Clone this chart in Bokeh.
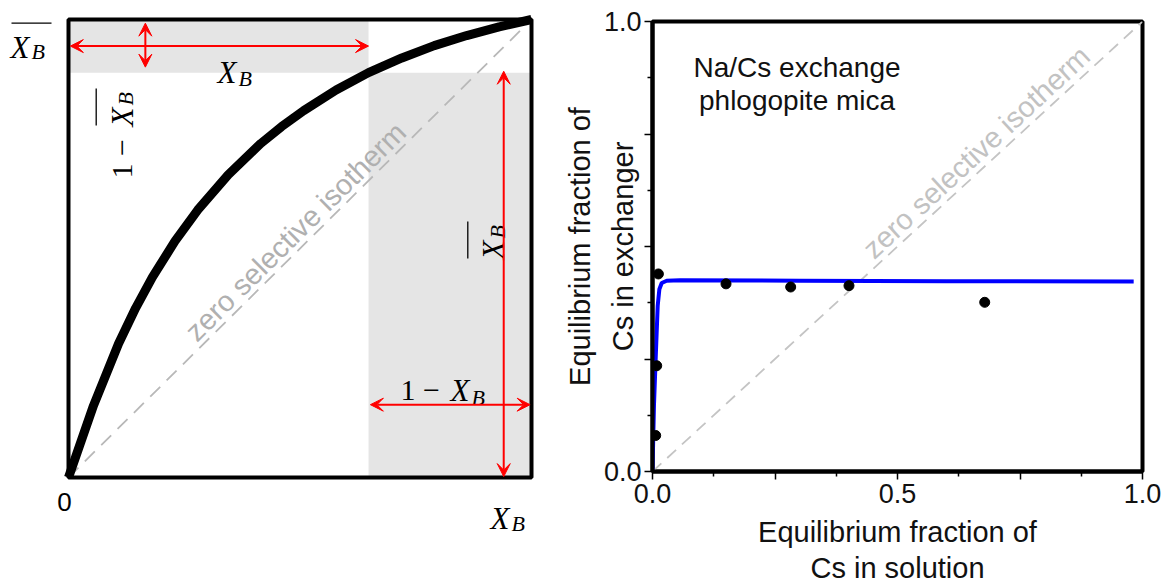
import math

from bokeh.core.properties import value
from bokeh.embed import file_html
from bokeh.layouts import row
from bokeh.models import Arrow, FixedTicker, Label, Range1d, VeeHead
from bokeh.plotting import figure
from bokeh.resources import INLINE

# ---------------- data ----------------
# Left panel: schematic favourable exchange isotherm (fraction in solution vs exchanger)
curve_x = [0.0, 0.054, 0.108, 0.145, 0.181, 0.23, 0.279, 0.345, 0.415, 0.46, 0.508,
           0.578, 0.648, 0.72, 0.79, 0.86, 0.93, 1.0]
curve_y = [0.0, 0.157, 0.292, 0.370, 0.437, 0.516, 0.584, 0.661, 0.729, 0.766, 0.801,
           0.846, 0.884, 0.916, 0.943, 0.965, 0.984, 1.0]
x_b = 0.648        # X_B marked on the schematic
x_b_bar = 0.884    # exchanger fraction on the curve at X_B
iso_x = [0.0, 1.0]  # zero-selectivity isotherm (y = x)
iso_y = [0.0, 1.0]

# Right panel: Na/Cs exchange on phlogopite mica
sol_frac = [0.0065, 0.0086, 0.012, 0.150, 0.282, 0.401, 0.678]
exch_frac = [0.080, 0.235, 0.439, 0.417, 0.410, 0.413, 0.376]
fit_x = [0.0, 0.003, 0.0072, 0.0106, 0.014, 0.0188, 0.029, 0.056, 0.3, 0.6, 0.982]
fit_y = [0.0, 0.147, 0.272, 0.368, 0.405, 0.419, 0.424, 0.425, 0.424, 0.423, 0.422]

x_ticks = [0.0, 0.25, 0.5, 0.75, 1.0]
x_tick_labels = ["0.0", "", "0.5", "", "1.0"]
y_ticks = [0.0, 0.25, 0.5, 0.75, 1.0]
y_tick_labels = ["0.0", "", "", "", "1.0"]
minor = [0.125, 0.375, 0.625, 0.875]

SERIF = "Liberation Serif"
SANS = "Liberation Sans"
RED = "#ff0000"
SHADE = "#e5e5e5"
INK = "#111111"

# ---------------- left panel ----------------
LW, LH = 560, 587
BX0, BX1, BYT, BYB = 68, 531, 19, 477   # box edges on the canvas (px)
KX, KY = BX1 - BX0, BYB - BYT            # px per data unit

left = figure(width=LW, height=LH, output_backend="svg", toolbar_location=None,
              x_range=Range1d(-BX0 / KX, (LW - BX0) / KX),
              y_range=Range1d(-(LH - BYB) / KY, BYB / KY),
              x_axis_location=None, y_axis_location=None,
              min_border=0, outline_line_color=None)
left.grid.visible = False
try:
    left.frame_align = False
except AttributeError:
    pass


def px(cx, cy):
    """canvas pixel position -> data position in the left panel"""
    return (cx - BX0) / KX, (BYB - cy) / KY


def off(dx, dy, ang):
    """local text offset (px, along/above baseline) -> data offset"""
    sx = dx * math.cos(ang) - dy * math.sin(ang)
    sy = dx * math.sin(ang) + dy * math.cos(ang)
    return sx / KX, sy / KY


def put(p, x, y, txt, size, style="normal", font=SERIF, ang=0.0, dx=0, dy=0,
        align="left", baseline="alphabetic", color="black"):
    ox, oy = off(dx, dy, ang)
    p.text(x=[x + ox], y=[y + oy], text=[txt], angle=ang,
           text_font=value(font), text_font_style=style, text_font_size=f"{size}px",
           text_align=align, text_baseline=baseline, text_color=color)


def bar(p, x, y, d0, d1, h, ang=0.0):
    ax, ay = off(d0, h, ang)
    bx, by = off(d1, h, ang)
    p.line([x + ax, x + bx], [y + ay, y + by], line_color="black", line_width=1.3)


def xb(p, x, y, ang=0.0, dx=0, sub_dx=21, sub_dy=-6, overline=None, bar_len=17):
    """italic X with subscript B (optionally overlined), anchored at its baseline start"""
    put(p, x, y, "X", 31, "italic", ang=ang, dx=dx)
    put(p, x, y, "B", 22, "italic", ang=ang, dx=dx + sub_dx, dy=sub_dy)
    if overline is not None:
        bar(p, x, y, dx + 1, dx + sub_dx + bar_len, overline, ang)


def one_minus(p, x, y, ang=0.0):
    put(p, x, y, "1", 30, ang=ang)
    put(p, x, y, "\u2212", 30, ang=ang, dx=31, align="center")


# shaded regions
left.quad(left=0, right=x_b, bottom=x_b_bar, top=1, fill_color=SHADE, line_color=None)
left.quad(left=x_b, right=1, bottom=0, top=x_b_bar, fill_color=SHADE, line_color=None)

# zero-selectivity diagonal and its label
left.line(iso_x, iso_y, line_color="#b8b8b8", line_width=1.8, line_dash="14 9")
lx, ly = px(295, 231)
put(left, lx, ly, "zero selective isotherm", 29, font=SANS, ang=math.atan2(KY, KX),
    align="center", baseline="middle", color="#b0b0b0")

# isotherm curve and frame
left.line(curve_x, curve_y, line_color="black", line_width=9, line_join="round")
left.quad(left=0, right=1, bottom=0, top=1, fill_color=None, line_color="black", line_width=4)


def arrow(p, x0, y0, x1, y1):
    head = dict(size=13, fill_color=RED, line_color=RED, line_width=1)
    p.add_layout(Arrow(x_start=x0, y_start=y0, x_end=x1, y_end=y1,
                       start=VeeHead(**head), end=VeeHead(**head),
                       line_color=RED, line_width=2))


arrow(left, 0.004, (1 + x_b_bar) / 2, x_b, (1 + x_b_bar) / 2)
arrow(left, 0.166, x_b_bar + 0.012, 0.166, 0.992)
arrow(left, 0.940, 0.002, 0.940, x_b_bar + 0.003)
arrow(left, x_b + 0.004, 0.159, 0.997, 0.159)

UP = math.pi / 2

# X_B along the top arrow
xb(left, *px(217, 71.7), sub_dy=-6.3)
# overlined X_B beside the top of the box
xb(left, *px(10, 46.7), sub_dy=-4, overline=24, bar_len=20)
# 1 - overlined X_B, rotated, beside the short arrow
ax_, ay_ = px(121.7, 178)
one_minus(left, ax_, ay_, UP)
xb(left, ax_, ay_, ang=UP, dx=52, sub_dy=-3.3, overline=26)
# overlined X_B, rotated, beside the long arrow
xb(left, *px(493.3, 259), ang=UP, sub_dy=-3.4, overline=26)
# 1 - X_B above the bottom arrow
ax_, ay_ = px(400, 390)
one_minus(left, ax_, ay_)
xb(left, ax_, ay_, dx=50, sub_dy=-6.7)
# axis end marks under the box
put(left, *px(64, 501), "0", 26, font=SANS, align="center", baseline="middle")
xb(left, *px(490, 518), sub_dy=-5)

# ---------------- right panel ----------------
RW = 1174 - LW
right = figure(width=RW, height=LH, output_backend="svg", toolbar_location=None,
               x_range=Range1d(0, 1), y_range=Range1d(0, 1),
               min_border_left=92, min_border_right=32, min_border_top=21, min_border_bottom=114,
               outline_line_color="black", outline_line_width=4)
right.grid.visible = False
try:
    right.frame_align = False
except AttributeError:
    pass

for axis, ticks, labels in ((right.xaxis, x_ticks, x_tick_labels),
                            (right.yaxis, y_ticks, y_tick_labels)):
    axis.ticker = FixedTicker(ticks=ticks, minor_ticks=minor)
    axis.major_label_overrides = {t: s for t, s in zip(ticks, labels)}
    axis.major_label_text_font = SANS
    axis.major_label_text_font_size = "27px"
    axis.major_label_text_color = INK
    axis.axis_line_width = 4
    axis.major_tick_out = 8
    axis.major_tick_in = 0
    axis.minor_tick_out = 5
    axis.minor_tick_in = 0
    axis.major_tick_line_width = 1.5
    axis.minor_tick_line_width = 1.5
    axis.axis_label_text_font = SANS
    axis.axis_label_text_font_size = "29px"
    axis.axis_label_text_font_style = "normal"
    axis.axis_label_text_color = INK
right.xaxis.major_label_standoff = 4
right.yaxis.major_label_standoff = 3
right.xaxis.axis_label = "Equilibrium fraction of\nCs in solution"
right.xaxis.axis_label_standoff = 10
right.xaxis.axis_label_text_line_height = 1.15
right.yaxis.axis_label = "Equilibrium fraction of\nCs in exchanger"
right.yaxis.axis_label_standoff = -38
right.yaxis.axis_label_text_line_height = 1.35

right.line(iso_x, iso_y, line_color="#c4c4c4", line_width=1.8, line_dash="12 8")
right.text(x=[0.661], y=[0.7095], text=["zero selective isotherm"],
           angle=math.atan2(452.4, 489.5), text_font=value(SANS), text_font_size="29px",
           text_align="center", text_baseline="middle", text_color="#c2c2c2")

right.line(fit_x, fit_y, line_color="#0000ff", line_width=4)
right.scatter(sol_frac, exch_frac, size=10, color="black")

for txt, yy in (("Na/Cs exchange", 0.8975), ("phlogopite mica", 0.8245)):
    right.add_layout(Label(x=0.295, y=yy, text=txt, text_font=SANS, text_font_size="28px",
                           text_align="center", text_baseline="middle", text_color=INK))

layout = row(left, right, spacing=0)
open("out.html", "w").write(file_html(layout, INLINE))
